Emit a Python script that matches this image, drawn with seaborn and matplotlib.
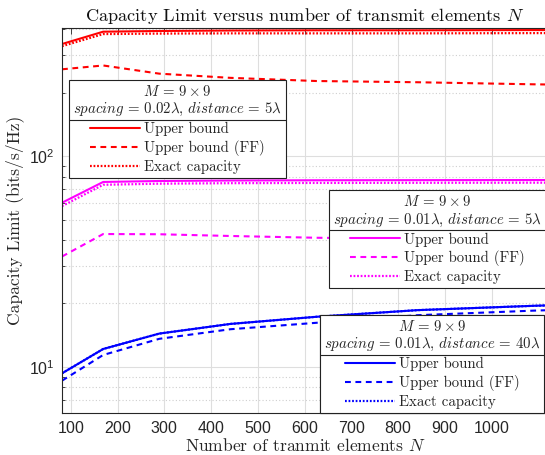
import numpy as np
import pandas as pd
import matplotlib
matplotlib.use("Agg")
import matplotlib.pyplot as plt
import seaborn as sns
from matplotlib.lines import Line2D
from matplotlib.ticker import FixedLocator, FuncFormatter, LogLocator, NullFormatter

# ---------------- data ----------------
N = [81, 169, 289, 441, 625, 841, 1089, 1225]

red_ub = [340, 389, 392, 394, 395, 395, 396, 396]
red_ff = [258, 269, 246, 235, 227, 224, 219, 217]
red_ex = [332, 379, 381, 382, 382, 382, 383, 383]

mag_ub = [60.1, 75.4, 76.2, 76.6, 76.8, 76.9, 77.0, 77.0]
mag_ff = [33.4, 42.7, 42.6, 41.8, 41.0, 40.5, 40.0, 39.8]
mag_ex = [57.9, 73.1, 74.0, 74.4, 74.6, 74.7, 74.8, 74.8]

blu_ub = [9.33, 12.17, 14.4, 16.0, 17.3, 18.6, 19.5, 19.9]
blu_ff = [8.61, 11.4, 13.6, 15.1, 16.2, 17.6, 18.5, 18.9]
blu_ex = [9.33, 12.17, 14.4, 16.0, 17.3, 18.6, 19.5, 19.9]

xticks = [100, 200, 300, 400, 500, 600, 700, 800, 900, 1000]
legend_labels = ["Upper bound", "Upper bound (FF)", "Exact capacity"]
legend_titles = [
    "$M\\,=\\,9 \\times 9$\n$spacing\\,=\\,0.02\\lambda$, $distance\\,=\\,5\\lambda$",
    "$M\\,=\\,9 \\times 9$\n$spacing\\,=\\,0.01\\lambda$, $distance\\,=\\,5\\lambda$",
    "$M\\,=\\,9 \\times 9$\n$spacing\\,=\\,0.01\\lambda$, $distance\\,=\\,40\\lambda$",
]

# ---------------- style ----------------
sns.set_theme(style="white")
plt.rcParams["font.family"] = ["cmr10", "DejaVu Serif"]
plt.rcParams["mathtext.fontset"] = "cm"
plt.rcParams["axes.unicode_minus"] = False
plt.rcParams["axes.formatter.use_mathtext"] = True

W, H = 545, 455
fig = plt.figure(figsize=(W / 100, H / 100), dpi=100)
ax = fig.add_axes([62 / W, 1 - 413 / H, (548 - 62) / W, (413 - 28) / H])

dash = (0, (2.8, 2.2))
dot = (0, (0.8, 0.8))
groups = [
    ("#ff0000", red_ub, red_ff, red_ex),
    ("#ff00ff", mag_ub, mag_ff, mag_ex),
    ("#0000ff", blu_ub, blu_ff, blu_ex),
]
handles_all = []
for color, ub, ff, ex in groups:
    df = pd.DataFrame({"N": N, "ub": ub, "ff": ff, "ex": ex})
    sns.lineplot(data=df, x="N", y="ex", ax=ax, color=color, linestyle=dot, linewidth=1.6, legend=False)
    sns.lineplot(data=df, x="N", y="ff", ax=ax, color=color, linestyle=dash, linewidth=1.5, legend=False)
    sns.lineplot(data=df, x="N", y="ub", ax=ax, color=color, linestyle="-", linewidth=1.5, legend=False)
    hs = [
        Line2D([], [], color=color, linestyle="-", linewidth=1.5),
        Line2D([], [], color=color, linestyle=dash, linewidth=1.5),
        Line2D([], [], color=color, linestyle=dot, linewidth=1.6),
    ]
    handles_all.append(hs)

ax.set_yscale("log")
ax.set_xlim(81, 1120)
ax.set_ylim(6.05, 405)

ax.xaxis.set_major_locator(FixedLocator(xticks))
ax.yaxis.set_major_locator(FixedLocator([10, 100]))
ax.yaxis.set_minor_locator(LogLocator(base=10, subs=np.arange(2, 10)))
ax.yaxis.set_minor_formatter(NullFormatter())
ax.yaxis.set_major_formatter(FuncFormatter(lambda v, p: "$\\mathregular{10^{%d}}$" % int(round(np.log10(v)))))

axc = "#262626"
ax.tick_params(axis="both", which="both", direction="in", top=True, right=False,
               colors=axc, labelcolor=axc)
ax.tick_params(axis="both", which="major", length=4, width=0.6, labelsize=11.5, pad=5)
ax.tick_params(axis="y", which="minor", length=2.5, width=0.6, left=True)
for lab in ax.get_xticklabels() + ax.get_yticklabels():
    lab.set_fontfamily(["Liberation Sans", "DejaVu Sans"])
for s in ["left", "bottom", "top"]:
    ax.spines[s].set_color(axc)
    ax.spines[s].set_linewidth(0.8)
ax.spines["right"].set_visible(False)

ax.grid(True, which="major", color="#dedede", linewidth=0.8, linestyle="-")
ax.grid(True, which="minor", axis="y", color="#cfcfcf", linewidth=0.8, linestyle=(0, (1, 2)))
ax.set_axisbelow(True)

ax.set_title("Capacity Limit versus number of transmit elements $N$", fontsize=13.2, pad=5, color="#111111")
ax.set_xlabel("Number of tranmit elements $N$", fontsize=12.6, labelpad=1, color="#262626")
ax.set_ylabel("Capacity Limit (bits/s/Hz)", fontsize=12.6, labelpad=4, color="#262626")

# ---------------- legends ----------------
anchors = [(0.0144, 0.865), (0.549, 0.579), (0.531, 0.2545)]
legs = []
for hs, title, anc in zip(handles_all, legend_titles, anchors):
    leg = ax.legend(hs, legend_labels, title=title, loc="upper left", bbox_to_anchor=anc,
                    borderaxespad=0, fontsize=10.7, title_fontsize=10.7, frameon=True,
                    fancybox=False, framealpha=1, edgecolor="#222222", labelspacing=0.25,
                    handlelength=3.4, handletextpad=0.25, borderpad=0.27, alignment="center")
    leg.get_frame().set_linewidth(0.8)
    leg.get_title().set_multialignment("center")
    for t in leg.get_texts():
        t.set_color("#262626")
    ax.add_artist(leg)
    legs.append(leg)

fig.canvas.draw()
renderer = fig.canvas.get_renderer()
for leg in legs:
    fb = leg.get_frame().get_window_extent(renderer)
    tb = leg.get_title().get_window_extent(renderer)
    hb = leg._legend_handle_box.get_window_extent(renderer)
    y = (tb.y0 + hb.y1) / 2
    fig.add_artist(Line2D([fb.x0 / W, fb.x1 / W], [y / H, y / H], transform=fig.transFigure,
                          color="#222222", linewidth=0.8, zorder=10))

fig.savefig("out.png", dpi=100)
